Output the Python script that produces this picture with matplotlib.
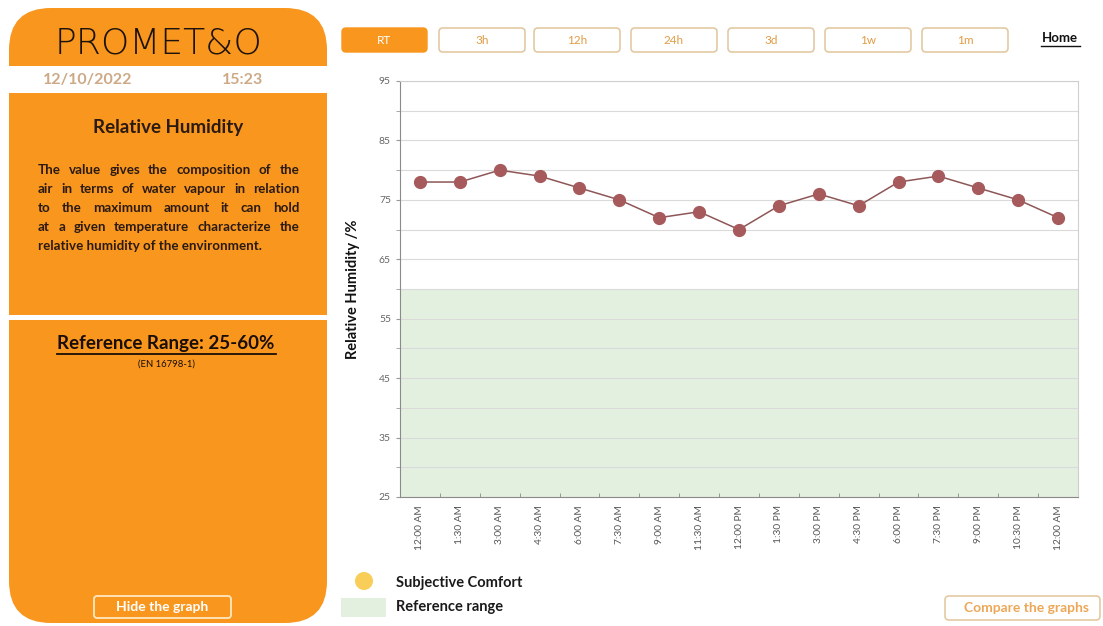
import matplotlib
matplotlib.use("Agg")
import matplotlib.pyplot as plt
from matplotlib.patches import FancyBboxPatch, Rectangle, Circle
from matplotlib.ticker import FixedLocator, NullFormatter

plt.rcParams['font.family'] = ['Lato', 'DejaVu Sans']

# ---------------- data ----------------
times = ["12:00 AM", "1:30 AM", "3:00 AM", "4:30 AM", "6:00 AM", "7:30 AM",
         "9:00 AM", "11:30 AM", "12:00 PM", "1:30 PM", "3:00 PM", "4:30 PM",
         "6:00 PM", "7:30 PM", "9:00 PM", "10:30 PM", "12:00 AM"]
humidity = [78, 78, 80, 79, 77, 75, 72, 73, 70, 74, 76, 74, 78, 79, 77, 75, 72]
ref_low, ref_high = 25, 60
y_major = [25, 35, 45, 55, 65, 75, 85, 95]
y_minor = [30, 40, 50, 60, 70, 80, 90]
buttons = ["RT", "3h", "12h", "24h", "3d", "1w", "1m"]
desc_lines = [
    "The value gives the composition of the",
    "air in terms of water vapour in relation",
    "to the maximum amount it can hold",
    "at a given temperature characterize the",
    "relative humidity of the environment.",
]

ORANGE = "#F8961E"
DARK = "#2B1A12"
W, H = 1103, 626
fig = plt.figure(figsize=(W / 100, H / 100), dpi=100)
fig.patch.set_facecolor("white")

# background axes in pixel coordinates
bg = fig.add_axes([0, 0, 1, 1])
bg.set_xlim(0, W)
bg.set_ylim(H, 0)
bg.axis("off")

# left panel
bg.add_patch(FancyBboxPatch((9, 8), 318, 615, boxstyle="round,pad=0,rounding_size=42",
                            fc=ORANGE, ec="none"))
bg.add_patch(Rectangle((9, 66), 318, 27, fc="white", ec="none"))
bg.add_patch(Rectangle((9, 315), 318, 5, fc="white", ec="none"))

bg.text(159, 43, "PROMET&O", ha="center", va="center", fontsize=26,
        family="DejaVu Sans", fontweight="light", color="#1E120C")
bg.text(88, 80, "12/10/2022", ha="center", va="center", fontsize=11.5,
        fontweight="bold", color="#CDA986")
bg.text(243, 80, "15:23", ha="center", va="center", fontsize=11.5,
        fontweight="bold", color="#CDA986")

bg.text(168, 127, "Relative Humidity", ha="center", va="center", fontsize=13.5,
        fontweight="bold", color=DARK)

# justified paragraph
fig.canvas.draw()
renderer = fig.canvas.get_renderer()
x0, x1 = 38, 299
FS = 9.6
for i, line in enumerate(desc_lines):
    y = 170 + i * 19
    words = line.split()
    if i == len(desc_lines) - 1:
        bg.text(x0, y, line, ha="left", va="center", fontsize=FS,
                fontweight="bold", color=DARK)
        continue
    objs = [bg.text(0, y, w, ha="left", va="center", fontsize=FS,
                    fontweight="bold", color=DARK) for w in words]
    widths = [o.get_window_extent(renderer).width for o in objs]
    gap = (x1 - x0 - sum(widths)) / (len(words) - 1)
    xc = x0
    for o, wd in zip(objs, widths):
        o.set_x(xc)
        xc += wd + gap

bg.text(166, 344, "Reference Range: 25-60%", ha="center", va="center", fontsize=13.5,
        fontweight="bold", color="#1A0E08")
bg.plot([57, 276], [354, 354], color="#1A0E08", lw=1.3)
bg.text(166, 364, "(EN 16798-1)", ha="center", va="center", fontsize=6.8, color="#1A0E08")

# hide button
bg.add_patch(FancyBboxPatch((94, 596), 137, 22, boxstyle="round,pad=0,rounding_size=3",
                            fc="none", ec="#FFE8C0", lw=1.3))
bg.text(162.5, 607, "Hide the graph", ha="center", va="center", fontsize=10,
        fontweight="bold", color="white")

# top buttons
bx = [342, 439, 534, 631, 728, 825, 922]
for i, (lab, x) in enumerate(zip(buttons, bx)):
    if i == 0:
        bg.add_patch(FancyBboxPatch((x, 28), 85, 24, boxstyle="round,pad=0,rounding_size=4",
                                    fc=ORANGE, ec=ORANGE, lw=1))
        bg.text(x + 42.5, 40, lab, ha="center", va="center", fontsize=8.5, color="white")
    else:
        bg.add_patch(FancyBboxPatch((x, 28), 86, 24, boxstyle="round,pad=0,rounding_size=4",
                                    fc="white", ec="#E3C9A2", lw=1.2))
        bg.text(x + 43, 40, lab, ha="center", va="center", fontsize=8.5, color="#E29B45")
bg.text(1060, 38, "Home", ha="center", va="center", fontsize=9.5, fontweight="bold",
        color="#111111")
bg.plot([1041, 1080], [46, 46], color="#111111", lw=1)

# legend
bg.add_patch(Circle((364, 581), 9, fc="#F9CE58", ec="none"))
bg.text(396, 583, "Subjective Comfort", ha="left", va="center", fontsize=10.5,
        fontweight="bold", color="#1A1A1A")
bg.add_patch(Rectangle((341, 598), 45, 19, fc="#E3F0E0", ec="none"))
bg.text(396, 607, "Reference range", ha="left", va="center", fontsize=10.5,
        fontweight="bold", color="#1A1A1A")

# compare button
bg.add_patch(FancyBboxPatch((945, 596), 155, 24, boxstyle="round,pad=0,rounding_size=4",
                            fc="white", ec="#E3C9A2", lw=1.2))
bg.text(1027, 608, "Compare the graphs", ha="center", va="center", fontsize=10,
        fontweight="bold", color="#EDA757")

# ---------------- chart ----------------
ax = fig.add_axes([400 / W, 1 - 497 / H, 678 / W, 416 / H])
ax.set_facecolor("white")
xs = list(range(len(times)))
ax.axhspan(ref_low, ref_high, color="#E3F0E0", zorder=0, lw=0)
ax.plot(xs, humidity, color="#8E5656", lw=1.1, marker="o", markersize=8.5,
        markerfacecolor="#A65A5C", markeredgecolor="#A65A5C", zorder=3)
ax.set_xlim(-0.5, len(times) - 0.5)
ax.set_ylim(25, 95)
ax.yaxis.set_major_locator(FixedLocator(y_major))
ax.yaxis.set_minor_locator(FixedLocator(y_minor))
ax.yaxis.set_minor_formatter(NullFormatter())
ax.grid(True, which="both", axis="y", color="#DADADA", lw=0.8, zorder=1)
ax.set_axisbelow(True)
ax.set_xticks(xs)
ax.set_xticklabels(times, rotation=90, fontsize=7.3, color="#555555")
ax.set_xticks([x + 0.5 for x in xs[:-1]], minor=True)
ax.tick_params(axis="x", which="major", length=0, pad=6)
ax.tick_params(axis="x", which="minor", length=3, color="#888888", direction="in")
ax.tick_params(axis="y", which="both", length=3, color="#999999", labelsize=7.5,
               labelcolor="#666666", direction="out")
for s in ["top", "right"]:
    ax.spines[s].set_color("#CFCFCF")
for s in ["left", "bottom"]:
    ax.spines[s].set_color("#8A8A8A")
ax.set_ylabel("Relative Humidity /%", fontsize=10.5, fontweight="bold",
              color="#111111", labelpad=14)

fig.savefig("out.png", dpi=100, facecolor="white")
